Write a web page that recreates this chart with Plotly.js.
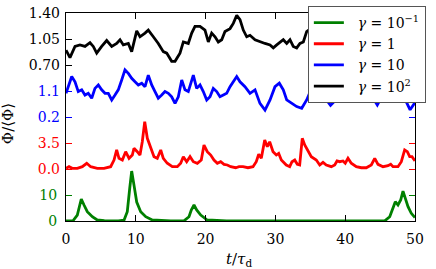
<!DOCTYPE html>
<html>
<head>
<meta charset="utf-8">
<script src="https://cdn.plot.ly/plotly-3.0.1.min.js"></script>
<style>html,body{margin:0;padding:0;background:#fff;}#chart{width:436px;height:269px;}</style>
</head>
<body>
<div id="chart"></div>
<script>
// gamma = 10^2 (black)
var tBlack = [0, 0.57, 1.29, 2.0, 2.72, 3.44, 3.91, 4.40, 5.11, 5.83, 6.55, 7.26, 7.74, 8.21, 8.93, 9.41, 10.13, 10.6, 11.32, 11.79, 12.51, 13.22, 13.94, 14.43, 15.14, 15.62, 16.33, 16.81, 17.52, 18.01, 18.48, 19.2, 19.91, 20.39, 20.87, 21.35, 21.82, 22.31, 22.78, 23.5, 23.97, 24.46, 24.93, 25.4, 25.89, 26.36, 27.08, 27.79, 28.51, 29.23, 29.7, 30.19, 30.66, 31.13, 31.62, 32.09, 32.56, 33.05, 33.52, 34.0, 34.48, 35.2, 36.0, 36.8, 37.6, 38.4, 39.2, 40.0, 40.8, 41.6, 42.4, 43.2, 44.0, 44.8, 45.6, 46.4, 47.2, 48.0, 48.8, 49.6, 50];
var phiBlack = [0.90, 0.80, 0.95, 0.97, 0.95, 1.00, 0.95, 0.86, 0.95, 1.03, 0.95, 0.99, 1.04, 0.97, 0.99, 0.88, 1.16, 1.08, 1.13, 1.17, 1.08, 0.99, 0.88, 0.86, 0.75, 0.75, 0.86, 1.01, 0.99, 1.13, 1.22, 1.22, 1.17, 1.01, 1.13, 1.08, 1.01, 1.04, 1.15, 1.19, 1.26, 1.37, 1.31, 1.17, 1.08, 1.10, 1.04, 1.01, 0.99, 0.97, 0.93, 0.97, 1.01, 1.04, 0.99, 1.04, 0.95, 0.93, 0.99, 1.01, 1.15, 1.20, 1.12, 1.05, 1.10, 0.98, 1.02, 1.08, 0.96, 1.03, 1.12, 1.01, 0.93, 1.00, 1.06, 0.97, 1.04, 1.10, 0.99, 1.03, 1.00];

// gamma = 10 (blue)
var tBlue = [0, 0.82, 1.29, 1.76, 2.25, 2.72, 3.19, 3.68, 4.15, 4.63, 5.11, 5.59, 6.06, 6.55, 7.02, 7.49, 7.98, 8.45, 8.93, 9.41, 9.89, 10.36, 10.85, 11.32, 11.79, 12.28, 12.75, 13.22, 13.71, 14.18, 14.66, 15.14, 15.62, 16.09, 16.58, 17.05, 17.52, 18.24, 18.72, 19.2, 19.67, 20.16, 20.63, 21.1, 21.59, 22.06, 22.54, 23.02, 23.5, 23.97, 24.46, 24.93, 25.64, 26.36, 27.08, 27.79, 28.51, 29.23, 29.94, 30.56, 31.13, 31.62, 32.34, 33.05, 33.77, 34.48, 35.2, 35.9, 36.6, 37.3, 37.9, 38.5, 39.1, 39.8, 40.5, 41.2, 41.9, 42.6, 43.3, 44.0, 44.6, 45.2, 45.9, 46.6, 47.3, 48.0, 48.6, 49.3, 50];
var phiBlue = [1.02, 1.60, 1.42, 1.08, 1.14, 0.96, 1.02, 0.85, 1.19, 1.31, 1.14, 1.02, 1.02, 0.79, 0.96, 1.14, 1.48, 1.83, 1.71, 1.54, 1.42, 1.31, 1.37, 1.25, 1.65, 1.31, 1.08, 0.85, 0.96, 1.08, 1.02, 0.90, 0.67, 0.90, 1.48, 1.14, 1.08, 1.65, 1.19, 1.31, 1.08, 0.79, 0.90, 1.19, 1.08, 0.90, 0.96, 1.02, 1.25, 1.42, 1.60, 1.42, 1.25, 1.02, 1.14, 0.67, 0.44, 0.79, 1.25, 1.37, 1.14, 0.79, 0.67, 0.56, 0.50, 0.79, 1.20, 1.35, 1.10, 0.80, 0.60, 0.75, 1.15, 1.30, 1.00, 1.25, 1.40, 1.10, 0.95, 0.85, 0.62, 0.90, 1.20, 1.30, 1.05, 1.20, 0.80, 0.45, 0.70];

// gamma = 1 (red)
var tRed = [0, 0.43, 0.9, 1.62, 2.34, 2.97, 3.54, 4.48, 5.44, 6.4, 6.88, 7.26, 7.59, 8.07, 8.55, 9.03, 9.5, 9.74, 10.21, 10.6, 10.93, 11.28, 11.65, 12.13, 12.61, 13.08, 13.57, 13.94, 14.51, 15.23, 15.95, 16.43, 16.81, 17.29, 17.77, 18.24, 18.81, 19.38, 19.77, 20.24, 20.73, 21.2, 21.68, 22.16, 22.64, 23.11, 23.6, 24.31, 24.79, 25.36, 26.07, 26.79, 27.26, 27.61, 27.98, 28.47, 28.84, 29.18, 29.66, 30.13, 30.47, 30.85, 31.56, 32.05, 32.38, 32.77, 33.14, 33.48, 33.85, 34.2, 34.67, 35.14, 35.86, 36.35, 36.82, 37.29, 38.01, 38.5, 38.83, 39.21, 39.68, 40.01, 40.4, 40.87, 41.59, 42.31, 43.02, 43.74, 44.23, 44.7, 45.42, 46.13, 46.52, 46.85, 47.56, 48.04, 48.52, 48.9, 49.24, 49.57, 50];
var phiRed = [0.09, 0.31, 0.09, 0.09, 0.31, 0.77, 0.31, 0.09, 0.09, 0.31, 1.21, 2.56, 1.44, 1.21, 2.33, 1.44, 1.88, 2.79, 2.33, 1.88, 3.67, 6.37, 4.13, 2.79, 1.66, 1.44, 2.56, 1.44, 0.77, 0.31, 0.31, 0.77, 1.66, 0.98, 1.66, 0.98, 0.77, 1.21, 3.23, 2.33, 1.88, 1.21, 0.77, 0.98, 0.63, 0.54, 0.31, 0.17, 0.31, 0.31, 0.17, 0.31, 0.98, 1.98, 1.44, 3.90, 3.00, 3.67, 2.33, 1.88, 2.11, 1.21, 0.54, 0.31, 0.98, 1.21, 0.63, 0.54, 4.13, 3.23, 2.33, 1.66, 1.21, 0.54, 0.90, 0.54, 0.31, 0.54, 1.08, 0.98, 1.08, 0.77, 1.44, 0.77, 0.31, 0.17, 0.17, 0.54, 1.44, 0.63, 0.31, 0.44, 0.63, 0.31, 0.31, 0.98, 2.56, 2.33, 1.66, 1.66, 1.10];

// gamma = 10^-1 (green)
var tGreen = [0, 1.0, 1.62, 1.96, 2.19, 2.58, 3.05, 3.77, 4.48, 5.5, 6.5, 7.5, 8.31, 8.78, 9.13, 9.41, 9.74, 10.13, 10.7, 11.42, 12.36, 13.5, 15, 16.9, 17.62, 17.95, 18.34, 18.72, 19.3, 20.24, 21.5, 23, 25, 30, 35, 40, 45.66, 46.38, 46.85, 47.18, 47.56, 47.95, 48.28, 48.61, 49.0, 49.47, 50];
var phiGreen = [0.05, 0.1, 2.3, 6.15, 8.46, 6.15, 3.58, 1.65, 0.38, 0.15, 0.08, 0.05, 0.3, 3.58, 12.6, 19.2, 13.8, 7.3, 3.58, 1.65, 0.38, 0.15, 0.05, 0.05, 1.65, 4.23, 6.15, 4.23, 2.3, 0.38, 0.15, 0.05, 0.02, 0.02, 0.02, 0.02, 0.05, 1.65, 4.88, 7.42, 6.15, 8.08, 11.5, 8.73, 5.5, 2.96, 1.3];

var names = ['\u00a0\u00a0<i>γ</i> = 10<sup>−1</sup>', '\u00a0\u00a0<i>γ</i> = 1', '\u00a0\u00a0<i>γ</i> = 10', '\u00a0\u00a0<i>γ</i> = 10<sup>2</sup>'];
var colors = ['#008000', '#ff0000', '#0000ff', '#000000'];
var xTicks = [0, 10, 20, 30, 40, 50];
var greenTicks = [0, 10], greenText = ['0', '10'];
var redTicks = [0, 3.5], redText = ['0.0', '3.5'];
var blueTicks = [0.2, 1.1], blueText = ['0.2', '1.1'];
var blackTicks = [0.7, 1.05, 1.4], blackText = ['0.70', '1.05', '1.40'];

var FONT = 'DejaVu Serif';

function tr(t, y, i, ax) {
  return {x: t, y: y, name: names[i], yaxis: ax, type: 'scatter', mode: 'lines',
          line: {color: colors[i], width: 2.8}, hoverinfo: 'skip'};
}
var data = [
  tr(tGreen, phiGreen, 0, 'y'),
  tr(tRed, phiRed, 1, 'y2'),
  tr(tBlue, phiBlue, 2, 'y3'),
  tr(tBlack, phiBlack, 3, 'y4')
];

function yax(range, vals, text, color, main) {
  return {range: range, tickmode: 'array', tickvals: vals, ticktext: text,
    ticks: 'inside', ticklen: 6, tickwidth: 1, tickcolor: color,
    tickfont: {family: FONT, size: 14, color: color},
    mirror: 'ticks', showline: !!main, linecolor: '#000', linewidth: 1,
    showgrid: false, zeroline: false, fixedrange: true, ticklabelstandoff: 5};
}

var layout = {
  width: 436, height: 269,
  margin: {l: 66, r: 21, t: 13, b: 48, pad: 0, autoexpand: false},
  paper_bgcolor: '#fff', plot_bgcolor: '#fff',
  font: {family: FONT, size: 14, color: '#000'},
  xaxis: {range: [0, 50], tickmode: 'array', tickvals: xTicks, ticks: 'inside', ticklen: 6,
    tickwidth: 1, tickcolor: '#000', showline: true, mirror: 'ticks', linecolor: '#000', linewidth: 1,
    showgrid: false, zeroline: false, fixedrange: true,
    tickfont: {family: FONT, size: 14, color: '#000'}, ticklabelstandoff: 5},
  yaxis: yax([0, 80], greenTicks, greenText, '#008000', true),
  yaxis2: Object.assign(yax([-7, 21], redTicks, redText, '#ff0000', false), {overlaying: 'y', anchor: 'x', side: 'left'}),
  yaxis3: Object.assign(yax([-3.4, 3.8], blueTicks, blueText, '#0000ff', false), {overlaying: 'y', anchor: 'x', side: 'left'}),
  yaxis4: Object.assign(yax([-1.4, 1.4000001], blackTicks, blackText, '#000000', false), {overlaying: 'y', anchor: 'x', side: 'left'}),
  showlegend: true,
  legend: {x: 0.693, y: 1.034, xanchor: 'left', yanchor: 'top', bgcolor: '#fff',
    bordercolor: '#555', borderwidth: 1, font: {family: FONT, size: 14, color: '#000'},
    traceorder: 'normal'},
  annotations: [
    {text: 'Φ/⟨Φ⟩', xref: 'paper', yref: 'paper', x: -0.166, y: 0.466, textangle: -90,
     showarrow: false, xanchor: 'center', yanchor: 'middle', font: {family: FONT, size: 15, color: '#000'}},
    {text: '<i>t</i>/<i>τ</i><sub>d</sub>', xref: 'paper', yref: 'paper', x: 0.497, y: -0.183,
     showarrow: false, xanchor: 'center', yanchor: 'middle', font: {family: FONT, size: 15, color: '#000'}}
  ]
};

Plotly.newPlot('chart', data, layout, {staticPlot: true, displayModeBar: false});
</script>
</body>
</html>
